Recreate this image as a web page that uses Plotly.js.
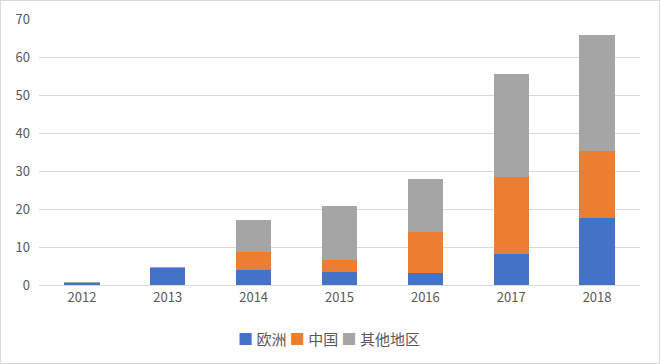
<!DOCTYPE html>
<html>
<head>
<meta charset="utf-8">
<script src="https://cdn.plot.ly/plotly-3.0.1.min.js"></script>
<style>
html,body{margin:0;padding:0;background:#fff;}
#frame{width:660px;height:364px;box-sizing:border-box;border:1px solid #d9d9d9;}
#chart{width:658px;height:362px;}
</style>
</head>
<body>
<div id="frame"><div id="chart"></div></div>
<script>
const years = ["2012","2013","2014","2015","2016","2017","2018"];
const europe = [0.4, 4.5, 4.0, 3.4, 3.2, 8.2, 17.6];
const china = [0, 0, 4.8, 3.3, 10.8, 20.3, 17.6];
const others = [0.4, 0.3, 8.3, 14.1, 14.0, 26.9, 30.5];
const seriesNames = ["欧洲", "中国", "其他地区"];
const colors = ["#4472C4", "#ED7D31", "#A5A5A5"];
const yTicks = [0,10,20,30,40,50,60,70];

const font = "'Microsoft YaHei','Noto Sans CJK SC','DejaVu Sans',sans-serif";
const data = [europe, china, others].map((v,i)=>({
  type:"bar", x:years, y:v, name:seriesNames[i],
  marker:{color:colors[i]}, hoverinfo:"skip", showlegend:false
}));

const legendText = seriesNames.map((n,i)=>
  '<span style="color:'+colors[i]+'">■</span> '+n).join(' ');

const layout = {
  width:658, height:362,
  margin:{l:38, r:19, t:18, b:78},
  barmode:"stack", bargap:0.59,
  paper_bgcolor:"#fff", plot_bgcolor:"#fff",
  font:{family:font, size:13, color:"#595959"},
  showlegend:false,
  annotations:[{xref:"paper", yref:"paper", x:0.483, y:-0.2, xanchor:"center", yanchor:"middle",
    showarrow:false, text:legendText, font:{size:15, color:"#595959"}}],
  xaxis:{type:"category", showgrid:false, showline:true, linecolor:"#d9d9d9", linewidth:1,
    ticks:"", tickfont:{size:13, color:"#595959"}, fixedrange:true},
  yaxis:{range:[0,70], tickvals:yTicks, showgrid:true, gridcolor:"#d9d9d9", gridwidth:1,
    zeroline:false, showline:false, ticks:"", ticklabelstandoff:8,
    tickfont:{size:13, color:"#595959"}, fixedrange:true}
};
Plotly.newPlot("chart", data, layout, {staticPlot:true, displayModeBar:false});
</script>
</body>
</html>
